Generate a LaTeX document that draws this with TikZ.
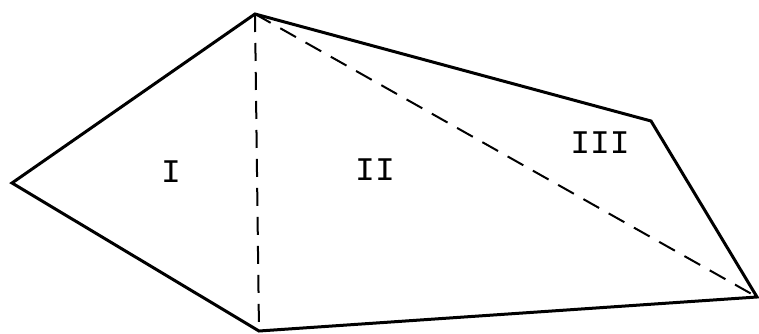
\documentclass[tikz,border=0pt]{standalone}
\usepackage{fontspec}
\setmonofont{Liberation Mono}
\begin{document}
\begin{tikzpicture}[x=1pt,y=-1pt,
  edge/.style={line width=3pt,line join=miter,line cap=round},
  dashline/.style={line width=2pt,dash pattern=on 18pt off 11pt},
  lab/.style={font=\ttfamily\fontsize{33}{33}\selectfont,inner sep=0pt}]
\useasboundingbox (0,0) rectangle (759,334);
\coordinate (L) at (12,183);
\coordinate (T) at (255,14);
\coordinate (U) at (651,121);
\coordinate (R) at (757,297);
\coordinate (B) at (259,331);
\draw[edge] (L) -- (T) -- (U) -- (R) -- (B) -- cycle;
\draw[dashline] (T) -- (B);
\draw[dashline] (T) -- (R);
\node[lab] (n1) at (171,172) {I};
\node[lab] (n2) at (375,170) {II};
\node[lab] (n3) at (600,143) {III};
\end{tikzpicture}
\end{document}
